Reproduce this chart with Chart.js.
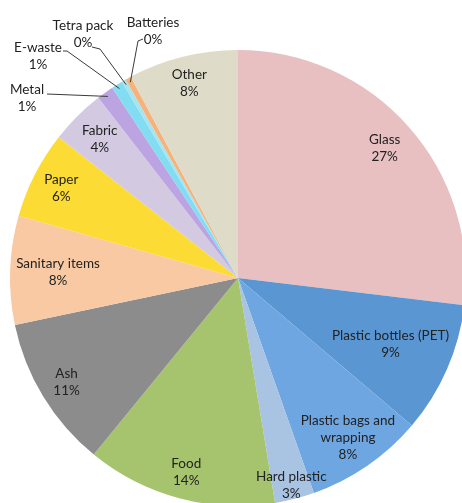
<!DOCTYPE html>
<html>
<head>
<meta charset="utf-8">
<script src="https://cdn.jsdelivr.net/npm/chart.js@4.4.1/dist/chart.umd.min.js"></script>
<style>
html, body { margin: 0; padding: 0; background: #fff; overflow: hidden; }
#wrap { position: absolute; left: 0; top: 0; width: 470px; height: 510px; }
</style>
</head>
<body>
<div id="wrap"><canvas id="myChart" width="470" height="510"></canvas></div>
<script>
const categories = ['Glass', 'Plastic bottles (PET)', ['Plastic bags and', 'wrapping'], 'Hard plastic', 'Food', 'Ash',
    'Sanitary items', 'Paper', 'Fabric', 'Metal', 'E-waste', 'Tetra pack', 'Batteries', 'Other'];
const shares = [26.9, 9.3, 8.4, 2.8, 13.5, 10.8, 7.7, 6.2, 3.9, 1.2, 0.8, 0.3, 0.4, 7.8];
const colors = ['#e8c0c1', '#5a96d2', '#6ea6e2', '#a9c3e3', '#a6c46e', '#8c8c8c', '#f8c9a2',
    '#fbdb34', '#d3cae1', '#bca4e2', '#82dcf2', '#a8e4ee', '#f6b27a', '#dedcc8'];

// label placement (fraction of radius) for labels drawn inside slices
const labelRadius = [0.86, 0.73, 0.85, 0.94, 0.88, 0.88, 0.79, 0.87, 0.86, 0, 0, 0, 0, 0.88];
// labels drawn outside with leader lines
const outside = {
    'Metal':      { x: 27,  y: 98.5, path: [[47, 94]] },
    'E-waste':    { x: 38,  y: 56.5, path: [[63, 51], [67, 51]] },
    'Tetra pack': { x: 83,  y: 34.5, path: [[92, 47], [100, 49]] },
    'Batteries':  { x: 153, y: 31.5, path: [[143, 39], [138, 41]] }
};

const sliceLabels = {
    id: 'sliceLabels',
    afterDatasetsDraw(chart) {
        const ctx = chart.ctx;
        const arcs = chart.getDatasetMeta(0).data;
        ctx.save();
        ctx.font = '13.5px Lato';
        ctx.textAlign = 'center';
        ctx.textBaseline = 'middle';
        arcs.forEach((arc, i) => {
            const name = categories[i];
            const lines = (Array.isArray(name) ? name : [name]).concat(Math.round(shares[i]) + '%');
            const mid = (arc.startAngle + arc.endAngle) / 2;
            let cx, cy;
            const o = outside[lines[0]];
            if (o) {
                const ex = arc.x + Math.cos(mid) * arc.outerRadius * 0.98;
                const ey = arc.y + Math.sin(mid) * arc.outerRadius * 0.98;
                ctx.strokeStyle = '#3a3a3a';
                ctx.lineWidth = 1;
                ctx.beginPath();
                ctx.moveTo(o.path[0][0], o.path[0][1]);
                o.path.slice(1).forEach(p => ctx.lineTo(p[0], p[1]));
                ctx.lineTo(ex, ey);
                ctx.stroke();
                cx = o.x; cy = o.y;
            } else {
                const r = arc.outerRadius * labelRadius[i];
                cx = arc.x + Math.cos(mid) * r;
                cy = arc.y + Math.sin(mid) * r;
            }
            ctx.fillStyle = '#222';
            const lh = 17;
            const top = cy - (lines.length - 1) * lh / 2;
            lines.forEach((t, k) => ctx.fillText(t, cx, top + k * lh));
        });
        ctx.restore();
    }
};

const ctx = document.getElementById('myChart').getContext('2d');
const myChart = new Chart(ctx, {
    type: 'pie',
    data: {
        labels: categories,
        datasets: [{
            data: shares,
            backgroundColor: colors,
            borderWidth: 0,
            hoverOffset: 0
        }]
    },
    options: {
        responsive: false,
        animation: false,
        radius: 228,
        layout: { padding: { left: 10, top: 50, right: 4, bottom: 4 } },
        plugins: {
            legend: { display: false },
            tooltip: { enabled: false }
        }
    },
    plugins: [sliceLabels]
});
</script>
</body>
</html>
